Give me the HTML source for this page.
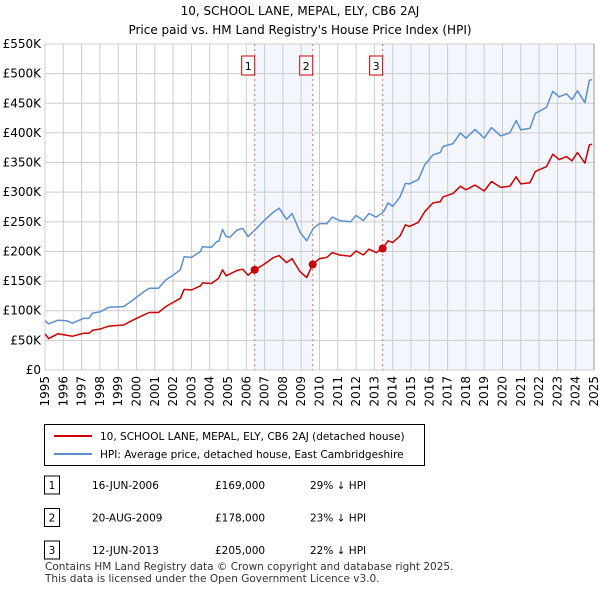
<!DOCTYPE html>
<html><head><meta charset="utf-8"><style>
body{margin:0;background:#fff;font-family:"Liberation Sans","DejaVu Sans",sans-serif;}
svg text{font-family:"DejaVu Sans","Liberation Sans",sans-serif;}
</style></head><body>
<svg id="c" width="600" height="590" viewBox="0 0 600 590">
<text x="300" y="15" text-anchor="middle" font-size="12">10, SCHOOL LANE, MEPAL, ELY, CB6 2AJ</text>
<text x="300" y="34" text-anchor="middle" font-size="12">Price paid vs. HM Land Registry's House Price Index (HPI)</text>
<g id="plot"></g>
<g>
<rect x="44.5" y="424.5" width="380" height="41" fill="#fff" stroke="#000" stroke-width="1"/>
<line x1="54" y1="436" x2="92" y2="436" stroke="#cc0000" stroke-width="2"/>
<text x="100" y="440" font-size="10.5">10, SCHOOL LANE, MEPAL, ELY, CB6 2AJ (detached house)</text>
<line x1="54" y1="454" x2="92" y2="454" stroke="#5b8fd0" stroke-width="2"/>
<text x="100" y="458" font-size="10.5">HPI: Average price, detached house, East Cambridgeshire</text>
</g>
<g id="tbl" font-size="10.5"></g>
<text x="45" y="570" font-size="10.5" fill="#333">Contains HM Land Registry data © Crown copyright and database right 2025.</text>
<text x="45" y="582" font-size="10.5" fill="#333">This data is licensed under the Open Government Licence v3.0.</text>
</svg>
<script>
const hpiYears=[1995.0,1995.2,1995.7,1996.2,1996.5,1997.1,1997.4,1997.6,1998.0,1998.5,1999.3,1999.8,2000.4,2000.7,2001.2,2001.6,2002.0,2002.4,2002.6,2003.0,2003.5,2003.6,2004.1,2004.4,2004.5,2004.7,2004.9,2005.1,2005.5,2005.8,2006.1,2006.5,2006.9,2007.5,2007.8,2008.2,2008.5,2008.93,2009.3,2009.66,2010.0,2010.4,2010.7,2011.1,2011.7,2012.0,2012.4,2012.7,2013.1,2013.5,2013.75,2014.0,2014.4,2014.7,2014.9,2015.4,2015.75,2016.2,2016.6,2016.75,2017.3,2017.7,2018.0,2018.5,2019.0,2019.4,2019.9,2020.4,2020.75,2021.0,2021.5,2021.8,2022.4,2022.75,2023.1,2023.5,2023.8,2024.1,2024.5,2024.75,2024.9];
const hpiValues=[83,78,84,83,79,87,87,96,98,106,107,118,132,138,138,152,160,169,191,190,200,208,207,217,217,237,225,224,236,239,225,237,250,267,273,254,264,233,218,239,247,247,258,252,250,261,252,264,258,267,282,276,292,315,314,321,346,363,367,377,382,400,391,406,391,409,395,400,421,405,408,433,443,470,461,466,456,471,451,489,490];
const priceYears=[1995.0,1995.2,1995.7,1996.5,1997.1,1997.4,1997.6,1998.0,1998.5,1999.3,1999.8,2000.4,2000.7,2001.2,2001.6,2002.0,2002.4,2002.6,2003.0,2003.5,2003.6,2004.1,2004.5,2004.7,2004.9,2005.5,2005.8,2006.1,2006.46,2006.9,2007.5,2007.8,2008.2,2008.5,2008.93,2009.3,2009.63,2010.0,2010.4,2010.7,2011.1,2011.7,2012.0,2012.4,2012.7,2013.1,2013.45,2013.75,2014.0,2014.4,2014.7,2014.9,2015.4,2015.75,2016.2,2016.6,2016.75,2017.3,2017.7,2018.0,2018.5,2019.0,2019.4,2019.9,2020.4,2020.75,2021.0,2021.5,2021.8,2022.4,2022.75,2023.1,2023.5,2023.8,2024.1,2024.5,2024.75,2024.9];
const priceValues=[61,53,61,57,62,62,67,69,74,76,84,93,97,97,107,114,121,136,135,142,147,146,155,169,159,168,170,160,169,177,190,193,181,188,166,156,178,188,190,198,194,192,201,194,204,198,205,218,215,226,245,242,249,267,282,284,292,298,310,304,312,302,318,308,310,326,314,316,335,343,364,355,360,353,367,349,380,381];
const saleYears=[2006.46,2009.63,2013.45];
const saleValues=[169,178,205];
const saleLabels=["1","2","3"];
const saleDates=["16-JUN-2006","20-AUG-2009","12-JUN-2013"];
const salePrices=["£169,000","£178,000","£205,000"];
const saleDiffs=["29% ↓ HPI","23% ↓ HPI","22% ↓ HPI"];
const yTicks=[0,50,100,150,200,250,300,350,400,450,500,550];
const yTickLabels=["£0","£50K","£100K","£150K","£200K","£250K","£300K","£350K","£400K","£450K","£500K","£550K"];
const xTicks=[1995,1996,1997,1998,1999,2000,2001,2002,2003,2004,2005,2006,2007,2008,2009,2010,2011,2012,2013,2014,2015,2016,2017,2018,2019,2020,2021,2022,2023,2024,2025];

const L=45,R=594,T=44,B=370,NS="http://www.w3.org/2000/svg";
const xs=y=>L+(y-1995)/30*(R-L);
const ys=v=>B-v/550*(B-T);
const plot=document.getElementById('plot');
function mk(tag,at,parent){const e=document.createElementNS(NS,tag);for(const k in at)e.setAttribute(k,at[k]);(parent||plot).appendChild(e);return e;}
// shading
let s1=mk('rect',{x:xs(saleYears[0]),y:T,width:xs(saleYears[1])-xs(saleYears[0]),height:B-T,fill:'#eef3fc',opacity:0.7});


let s2=mk('rect',{x:xs(saleYears[2]),y:T,width:R-xs(saleYears[2]),height:B-T,fill:'#eef3fc',opacity:0.7});


// grid
yTicks.forEach((v,i)=>{
 let g=mk('line',{x1:L,x2:R,y1:ys(v),y2:ys(v),stroke:'#cccccc','stroke-width':1});
 
 
 let t=mk('text',{x:L-4,y:ys(v)+4,'text-anchor':'end','font-size':12});
 t.textContent=yTickLabels[i];
 
 
});
xTicks.forEach(y=>{
 let g=mk('line',{x1:xs(y),x2:xs(y),y1:T,y2:B,stroke:y==2025?'#999':'#cccccc','stroke-width':1});
 
 
 let t=mk('text',{x:0,y:0,'text-anchor':'end','font-size':12,transform:`translate(${xs(y)+4},${B+6}) rotate(-90)`});
 t.textContent=y;
 
 
});
// vlines & labels
saleYears.forEach((y,i)=>{
 let l=mk('line',{x1:xs(y),x2:xs(y),y1:T,y2:B,stroke:'#ee6666','stroke-width':1,'stroke-dasharray':'2,3'});
 
 
 let r=mk('rect',{x:xs(y)-13,y:56,width:13,height:19,fill:'#fff',stroke:'#cc0000','stroke-width':1});
 
 
 let t=mk('text',{x:xs(y)-6.5,y:70,'text-anchor':'middle','font-size':11});
 t.textContent=saleLabels[i];
 
 
});
function path(xa,va,col,name){
 let d=xa.map((y,i)=>(i?'L':'M')+xs(y).toFixed(1)+','+ys(va[i]).toFixed(1)).join('');
 let p=mk('path',{d:d,fill:'none',stroke:col,'stroke-width':1.5,'stroke-linejoin':'round'});
 
 
}
path(hpiYears,hpiValues,'#5b8fd0','hpi-line');
path(priceYears,priceValues,'#cc0000','price-paid-line');
saleYears.forEach((y,i)=>{
 let c=mk('circle',{cx:xs(y),cy:ys(saleValues[i]),r:4,fill:'#cc0000'});
 
 
});
// table
const tbl=document.getElementById('tbl');
saleYears.forEach((y,i)=>{
 const yy=476+i*32.5;
 let r=mk('rect',{x:44.5,y:yy,width:15,height:18,fill:'#fff',stroke:'#000','stroke-width':1},tbl);
 
 
 const cells=[[52,saleLabels[i],'middle'],[92,saleDates[i],'start'],[215,salePrices[i],'start'],[310,saleDiffs[i],'start']];
 cells.forEach(c=>{
  let t=mk('text',{x:c[0],y:yy+13,'text-anchor':c[2]},tbl);
  t.textContent=c[1];
  
  
 });
});
</script>
</body></html>
